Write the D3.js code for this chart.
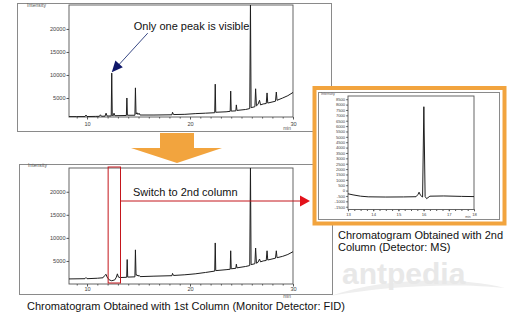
<!DOCTYPE html>
<html lang="en">
<head>
<meta charset="utf-8">
<title>heart-cut chromatograms</title>
<style>
  * { margin:0; padding:0; }
  body { background:#fff; }
  svg text { font-family: "Liberation Sans", Arial, sans-serif; }
  .caption { font-size: 11px; fill: #111; }
</style>
<script src="https://d3js.org/d3.v7.min.js"></script>
</head>
<body>
<svg id="fig" width="520" height="314"></svg>
<script>
// ---- data ----
// 1st column, FID (time in min, intensity)
var firstColumnTrace = [
  [8.25, 950], [9.0, 950], [9.8, 960], [9.9, 1300], [10.0, 970], [10.8, 1000],
  [11.2, 1020], [11.3, 1350], [11.4, 1030], [11.75, 1050], [11.85, 1700], [11.95, 1080],
  [12.35, 1100], [12.4, 10400], [12.45, 1200], [12.55, 1150], [12.62, 1700], [12.7, 1150],
  [13.82, 1200], [13.87, 5000], [13.92, 1250], [14.65, 1250], [14.7, 7200], [14.76, 1500],
  [14.85, 1800], [14.95, 1400], [15.05, 1700], [15.15, 1300], [16.5, 1300], [18.25, 1350],
  [18.3, 1900], [18.4, 1400], [19.5, 1450], [20.5, 1600], [21.5, 1700], [22.4, 1800],
  [22.45, 8000], [22.5, 1900], [23.5, 2000], [23.9, 2100], [23.95, 6500], [24.0, 2150],
  [24.45, 2200], [24.5, 3500], [24.56, 2300], [25.4, 2500], [25.8, 2700], [25.87, 26000],
  [25.93, 2900], [26.3, 3100], [26.37, 7000], [26.45, 3300], [26.6, 3600], [26.75, 4500],
  [26.85, 3500], [27.1, 3700], [27.4, 3800], [27.48, 6100], [27.55, 3900], [28.3, 4300],
  [28.38, 6300], [28.45, 4500], [29.0, 5000], [29.5, 5500], [30.0, 6200]
];
// 1st column, FID, with the heart-cut switched to the 2nd column
var cutColumnTrace = [
  [8.25, 1100], [9.8, 1150], [9.9, 1400], [10.0, 1150], [11.0, 1250], [11.55, 1350],
  [11.7, 1800], [11.85, 2100], [11.95, 1500], [12.15, 900], [12.4, 700], [12.7, 900],
  [12.85, 1500], [12.95, 2200], [13.05, 1500], [13.2, 1400], [13.85, 1450], [13.9, 5300],
  [13.95, 1500], [14.65, 1550], [14.7, 7400], [14.76, 1900], [14.85, 2000], [14.95, 1700],
  [15.05, 1900], [15.15, 1600], [16.5, 1700], [18.25, 1800], [18.3, 2300], [18.4, 1850],
  [19.5, 2000], [20.5, 2200], [21.5, 2500], [22.4, 2800], [22.45, 8900], [22.5, 2900],
  [23.5, 3100], [23.9, 3200], [23.95, 7200], [24.0, 3300], [24.45, 3400], [24.5, 4300],
  [24.56, 3500], [25.4, 3800], [25.8, 4000], [25.87, 26000], [25.93, 4200], [26.3, 4400],
  [26.37, 7800], [26.45, 4500], [26.6, 4700], [26.75, 5400], [26.85, 4800], [27.1, 5000],
  [27.4, 5100], [27.48, 7200], [27.55, 5200], [28.3, 5600], [28.38, 7200], [28.45, 5700],
  [29.0, 6000], [29.5, 6400], [30.0, 7000]
];
// 2nd column, MS
var secondColumnTrace = [
  [13.0, -300], [13.2, -400], [13.5, -520], [13.8, -580], [14.5, -600], [15.2, -590],
  [15.7, -570], [15.78, -350], [15.82, -150], [15.88, -450], [15.96, -600], [16.01, 7800],
  [16.06, -550], [16.12, -750], [16.25, -520], [16.8, -500], [17.5, -540], [18.0, -560]
];

var fidYTicks = [5000, 10000, 15000, 20000];
var fidXTicks = [10, 20, 30];
var msYTicks = [-1500, -1000, -500, 0, 500, 1000, 1500, 2000, 2500, 3000, 3500, 4000,
                4500, 5000, 5500, 6000, 6500, 7000, 7500, 8000, 8500];
var msXTicks = [13, 14, 15, 16, 17, 18];
var heartCut = [12.05, 13.25];
var visiblePeak = [12.4, 10400];

var svg = d3.select("#fig");

// watermark, faint, sits under everything
svg.append("path")
  .attr("d", "M330,296 C380,278 460,276 505,288 C460,283 390,285 330,296 Z")
  .attr("fill", "#eeeeee");
svg.append("text")
  .attr("x", 342).attr("y", 284)
  .attr("font-size", 30).attr("font-weight", "bold")
  .attr("fill", "#e8e8e8")
  .text("antpedia");

function frame(x, y, w, h) {
  svg.append("rect")
    .attr("x", x + 0.5).attr("y", y + 0.5).attr("width", w).attr("height", h)
    .attr("fill", "none").attr("stroke", "#8a8a8a");
}

function chrom(o) {
  var x = d3.scaleLinear().domain(o.xDomain).range([o.left, o.right]);
  var y = d3.scaleLinear().domain(o.yDomain).range([o.bottom, o.top]);
  var g = svg.append("g");

  g.append("clipPath").attr("id", o.id)
    .append("rect")
    .attr("x", o.left).attr("y", o.top)
    .attr("width", o.right - o.left).attr("height", o.bottom - o.top);

  var ya = g.append("g")
    .attr("transform", "translate(" + o.left + ",0)")
    .call(d3.axisLeft(y).tickValues(o.yTicks).tickSize(o.tick).tickPadding(1)
      .tickFormat(function(d){ return String(d); }));
  var xm = g.append("g")
    .attr("transform", "translate(0," + o.bottom + ")")
    .call(d3.axisBottom(x).tickValues(o.xMinor).tickSize(1.5).tickFormat(""));
  var xa = g.append("g")
    .attr("transform", "translate(0," + o.bottom + ")")
    .call(d3.axisBottom(x).tickValues(o.xTicks).tickSize(o.tick).tickPadding(o.xPad)
      .tickFormat(function(d){ return String(d); }));
  [ya, xm, xa].forEach(function(a){
    a.attr("font-family", null).attr("font-size", o.fs);
    a.select(".domain").remove();
    a.selectAll("line").attr("stroke", "#555");
    a.selectAll("text").attr("fill", "#444");
  });

  g.append("rect")
    .attr("x", o.left).attr("y", o.top)
    .attr("width", o.right - o.left).attr("height", o.bottom - o.top)
    .attr("fill", "none").attr("stroke", "#555").attr("stroke-width", 0.9);

  g.append("path")
    .datum(o.trace)
    .attr("clip-path", "url(#" + o.id + ")")
    .attr("d", d3.line().x(function(d){ return x(d[0]); }).y(function(d){ return y(d[1]); }))
    .attr("fill", "none").attr("stroke", "#1e1e1e").attr("stroke-width", 1);

  g.append("text").attr("x", o.intX).attr("y", o.intY)
    .attr("font-size", o.fs - 0.5).attr("fill", "#555").text("Intensity");
  g.append("text").attr("x", o.right - 6).attr("y", o.bottom + o.minDy)
    .attr("font-size", o.fs - 0.8).attr("fill", "#555").attr("text-anchor", "middle").text("min");
  return {x: x, y: y};
}

// outer frames of the two FID panels
frame(17, 3, 314, 128);
frame(19, 164, 313, 130);

var top1 = chrom({
  id: "c1", trace: firstColumnTrace, xDomain: [8.25, 30], yDomain: [870, 25200],
  left: 69, right: 293, top: 5, bottom: 117,
  yTicks: fidYTicks, xTicks: fidXTicks, xMinor: d3.range(9, 31),
  tick: 2.5, fs: 5.6, xPad: 2.5, intX: 27, intY: 7, minDy: 13
});

var bot1 = chrom({
  id: "c2", trace: cutColumnTrace, xDomain: [8.25, 30], yDomain: [0, 25150],
  left: 69, right: 293, top: 168, bottom: 284,
  yTicks: fidYTicks, xTicks: fidXTicks, xMinor: d3.range(9, 31),
  tick: 2.5, fs: 5.6, xPad: 1, intX: 28, intY: 167, minDy: 13.5
});

// big orange arrow between the panels
svg.append("path")
  .attr("d", "M160,133 L194,133 L194,148 L222,148 L177,163 L131,148 L160,148 Z")
  .attr("fill", "#f2a43e");

// note on the single visible peak
var tipX = top1.x(visiblePeak[0]), tipY = top1.y(visiblePeak[1]);
var ang = Math.atan2(tipY - (tipY - 40), tipX - (tipX + 36));
svg.append("line")
  .attr("x1", tipX + 36).attr("y1", tipY - 40)
  .attr("x2", tipX + 5).attr("y2", tipY - 6)
  .attr("stroke", "#3a4a86").attr("stroke-width", 1);
svg.append("path")
  .attr("d", "M0,0 L-11,-5 L-11,5 Z")
  .attr("transform", "translate(" + tipX + "," + (tipY - 1) + ") rotate(" + (ang * 180 / Math.PI) + ")")
  .attr("fill", "#10186a");
svg.append("text")
  .attr("x", tipX + 22).attr("y", tipY - 43)
  .attr("font-size", 11).attr("fill", "#111")
  .text("Only one peak is visible");

// heart-cut window and the switch arrow
var cx0 = bot1.x(heartCut[0]), cx1 = bot1.x(heartCut[1]);
svg.append("rect")
  .attr("x", cx0).attr("y", 167).attr("width", cx1 - cx0).attr("height", 116)
  .attr("fill", "none").attr("stroke", "#c4161c").attr("stroke-width", 1);
svg.append("line")
  .attr("x1", cx1).attr("y1", 201).attr("x2", 301).attr("y2", 201)
  .attr("stroke", "#c4161c").attr("stroke-width", 1);
svg.append("path")
  .attr("d", "M300,195.5 L310,201 L300,206.5 Z")
  .attr("fill", "#e3121b");
svg.append("text")
  .attr("x", 133).attr("y", 196)
  .attr("font-size", 11).attr("fill", "#111")
  .text("Switch to 2nd column");

// orange box holding the MS chromatogram
svg.append("rect")
  .attr("x", 314.5).attr("y", 88).attr("width", 190).attr("height", 135.5)
  .attr("fill", "#fff").attr("stroke", "#f2a43e").attr("stroke-width", 4);
frame(318, 92, 181, 127);

chrom({
  id: "c3", trace: secondColumnTrace, xDomain: [13, 18], yDomain: [-1760, 8800],
  left: 348, right: 474, top: 96, bottom: 209.5,
  yTicks: msYTicks, xTicks: msXTicks, xMinor: d3.range(13, 18.01, 0.25),
  tick: 1.8, fs: 4.2, xPad: 1.5, intX: 321, intY: 95, minDy: 8.5
});

// captions
svg.append("text").attr("class", "caption")
  .attr("x", 27).attr("y", 310)
  .text("Chromatogram Obtained with 1st Column (Monitor Detector: FID)");
svg.append("text").attr("class", "caption")
  .attr("x", 338).attr("y", 239)
  .text("Chromatogram Obtained with 2nd");
svg.append("text").attr("class", "caption")
  .attr("x", 338).attr("y", 251)
  .text("Column (Detector: MS)");
</script>
</body>
</html>
